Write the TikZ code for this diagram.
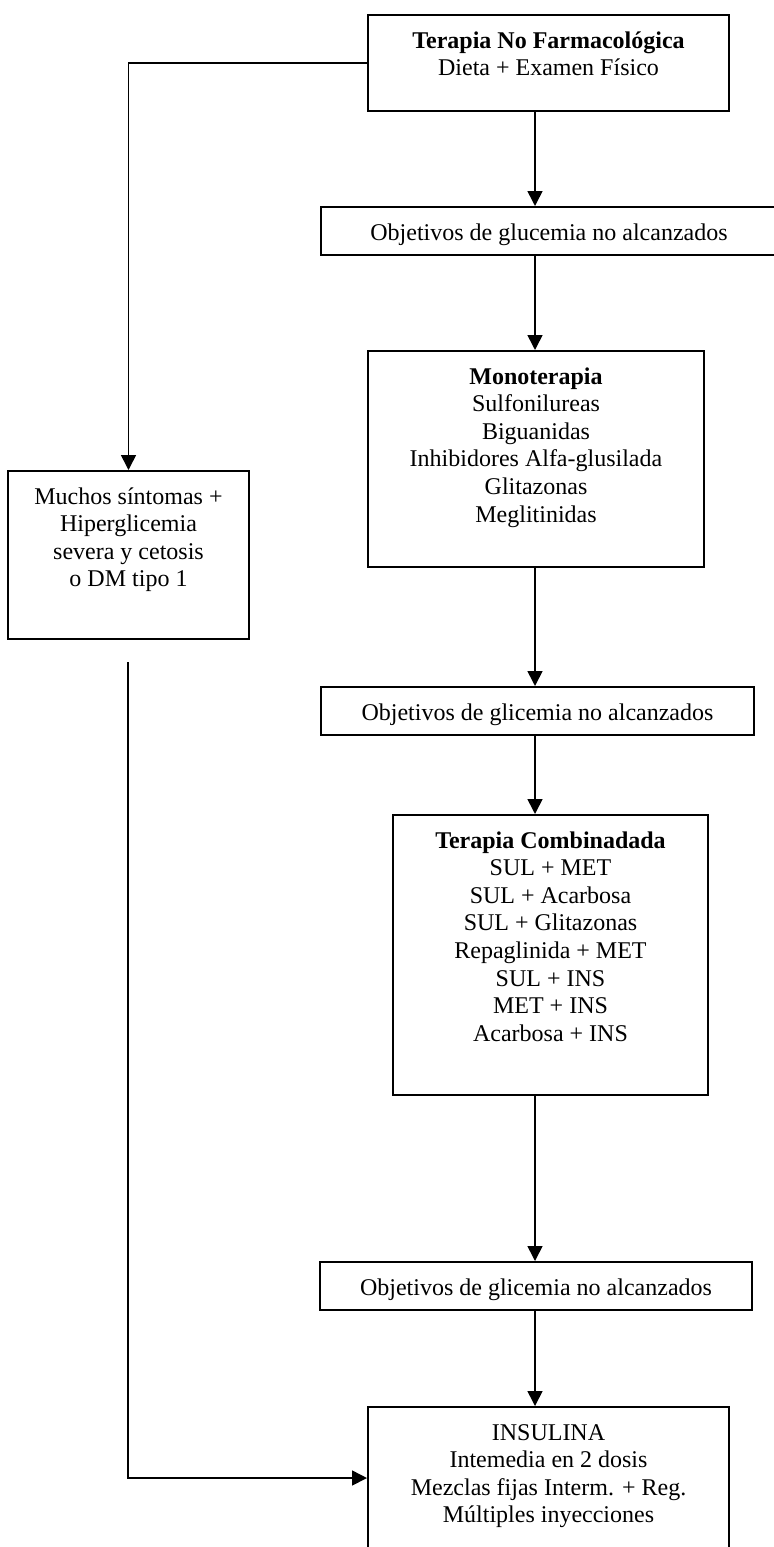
\documentclass[tikz,border=0pt]{standalone}
\usepackage{fontspec}
\setmainfont{Liberation Serif}
\usetikzlibrary{arrows.meta}
\newcommand\myboxtext[3]{\parbox[c][#2][t]{#1}{\centering\rule{0pt}{16.5pt}#3}}
\begin{document}
\begin{tikzpicture}[x=0.5pt,y=-0.5pt,
  box/.style={draw, line width=1pt, inner sep=0pt, anchor=north west, font=\fontsize{12}{13.8}\selectfont},
  conn/.style={line width=0.8pt},
  arr/.style={conn, -{Triangle[length=7.5pt,width=7.5pt]}}]
\useasboundingbox (0,0) rectangle (773,1547);

\node[box] (top) at (367,14) {\myboxtext{180.5pt}{48pt}{\textbf{Terapia No Farmacológica}\\Dieta + Examen Físico}};
\node[box] (ob1) at (320,206) {\myboxtext{228pt}{24pt}{Objetivos de glucemia no alcanzados}};
\node[box] (mono) at (367,350) {\myboxtext{168pt}{108pt}{\textbf{Monoterapia}\\Sulfonilureas\\Biguanidas\\Inhibidores Alfa-glusilada\\Glitazonas\\Meglitinidas}};
\node[box] (left) at (7,470) {\myboxtext{120.5pt}{84pt}{Muchos síntomas +\\Hiperglicemia\\severa y cetosis\\o DM tipo 1}};
\node[box] (ob2) at (320,686) {\myboxtext{216.5pt}{24pt}{Objetivos de glicemia no alcanzados}};
\node[box] (comb) at (392,814) {\myboxtext{157.5pt}{140pt}{\textbf{Terapia Combinadada}\\SUL + MET\\SUL + Acarbosa\\SUL + Glitazonas\\Repaglinida + MET\\SUL + INS\\MET + INS\\Acarbosa + INS}};
\node[box] (ob3) at (319,1261) {\myboxtext{216pt}{24pt}{Objetivos de glicemia no alcanzados}};
\node[box] (ins) at (367,1406) {\myboxtext{180.5pt}{80pt}{INSULINA\\Intemedia en 2 dosis\\Mezclas fijas Interm. + Reg.\\Múltiples inyecciones}};

\coordinate (xa) at (535,0);
\coordinate (hy) at (0,1478);
\coordinate (gap) at (128,662);

\draw[arr] (top.south -| xa) -- (ob1.north -| xa);
\draw[arr] (ob1.south -| xa) -- (mono.north -| xa);
\draw[arr] (mono.south -| xa) -- (ob2.north -| xa);
\draw[arr] (ob2.south -| xa) -- (comb.north -| xa);
\draw[arr] (comb.south -| xa) -- (ob3.north -| xa);
\draw[arr] (ob3.south -| xa) -- (ins.north -| xa);
\draw[arr] (top.west) -| (left.north);
\draw[arr] (gap) |- (hy -| ins.west);
\end{tikzpicture}
\end{document}
